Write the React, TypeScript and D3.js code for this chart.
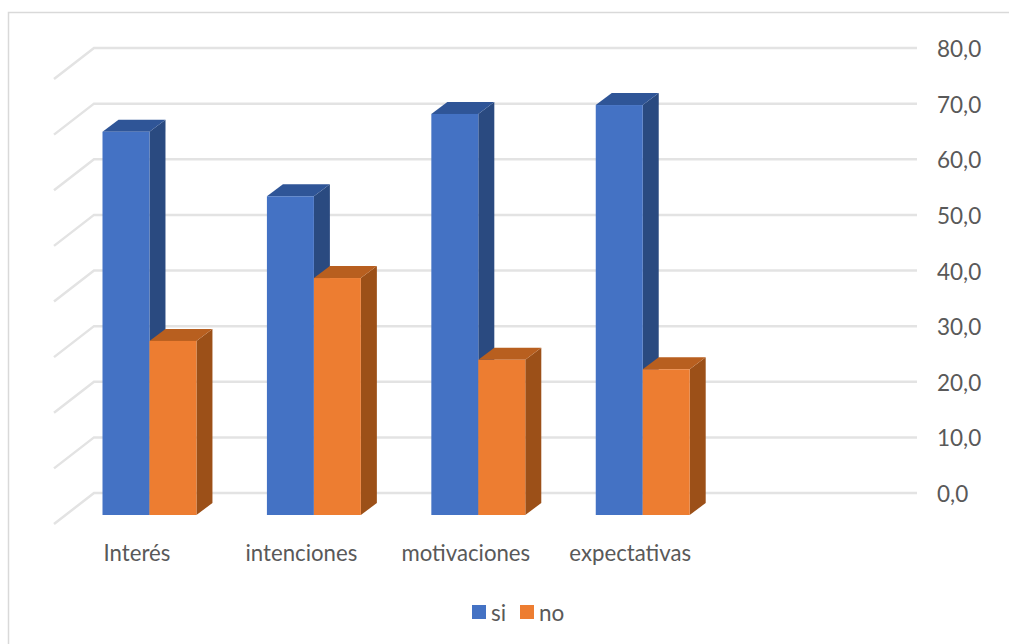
import React from "react";
import * as d3 from "d3";

const categories = ["Interés", "intenciones", "motivaciones", "expectativas"];
const siValues = [68.9, 57.3, 72.1, 73.7];
const noValues = [31.3, 42.6, 27.9, 26.2];
const ticks = [0, 10, 20, 30, 40, 50, 60, 70, 80];
const seriesNames = ["si", "no"];

const FONT = "Lato, Carlito, 'Open Sans', sans-serif";
const TEXT = "#595959";
const GRID = "#e3e3e3";
const palette = {
  si: { front: "#4472c4", top: "#2f5597", side: "#2a4a80" },
  no: { front: "#ed7d31", top: "#b85f1f", side: "#9c5018" },
};

// Oblique offsets of the 3D projection
const wallDx = 40;
const wallDy = -31;
const barDx = 16;
const barDy = -12;
const floorY = 515;
const unitScale = d3.scaleLinear().domain([0, 80]).range([0, 445]);

// Each band holds the two touching bars of one category
const xBand = d3.scaleBand<string>().domain(categories).range([102.5, 689.7]).paddingInner(0.4286).paddingOuter(0);

function Bar({ x, w, value, c }: { x: number; w: number; value: number; c: { front: string; top: string; side: string } }) {
  const top = floorY - unitScale(value);
  return (
    <g>
      <polygon
        points={`${x + w},${top} ${x + w + barDx},${top + barDy} ${x + w + barDx},${floorY + barDy} ${x + w},${floorY}`}
        fill={c.side}
      />
      <polygon
        points={`${x},${top} ${x + barDx},${top + barDy} ${x + w + barDx},${top + barDy} ${x + w},${top}`}
        fill={c.top}
      />
      <rect x={x} y={top} width={w} height={floorY - top} fill={c.front} />
    </g>
  );
}

export default function App() {
  const wallZero = 493;
  const wallLeft = 94;
  const wallRight = 917;
  return (
    <svg
      width={1009}
      height={644}
      viewBox="0 0 1009 644"
      style={{ position: "fixed", left: 0, top: 0, display: "block", background: "#fff" }}
    >
      <path d="M8.5,644 V12.5 H1009" fill="none" stroke="#d9d9d9" strokeWidth={1.5} />

      {ticks.map((t) => {
        const y = wallZero - unitScale(t);
        return (
          <g key={t}>
            <polyline
              points={`${wallLeft - wallDx},${y - wallDy} ${wallLeft},${y} ${wallRight},${y}`}
              fill="none"
              stroke={GRID}
              strokeWidth={2.5}
            />
            <text x={937} y={y + 9} fontFamily={FONT} fontSize={22.5} fill={TEXT}>
              {t.toFixed(1).replace(".", ",")}
            </text>
          </g>
        );
      })}

      {categories.map((cat, i) => {
        const x0 = xBand(cat)!;
        const w = xBand.bandwidth() / 2;
        return (
          <g key={cat}>
            <Bar x={x0} w={w} value={siValues[i]} c={palette.si} />
            <Bar x={x0 + w} w={w} value={noValues[i]} c={palette.no} />
            <text x={x0 + w - 12.5} y={561} textAnchor="middle" fontFamily={FONT} fontSize={22.2} fill={TEXT}>
              {cat}
            </text>
          </g>
        );
      })}

      <rect x={472} y={605} width={14} height={14} fill={palette.si.front} />
      <text x={491} y={620.5} fontFamily={FONT} fontSize={22.5} fill={TEXT}>{seriesNames[0]}</text>
      <rect x={520} y={605} width={14} height={14} fill={palette.no.front} />
      <text x={539} y={620.5} fontFamily={FONT} fontSize={22.5} fill={TEXT}>{seriesNames[1]}</text>
    </svg>
  );
}
